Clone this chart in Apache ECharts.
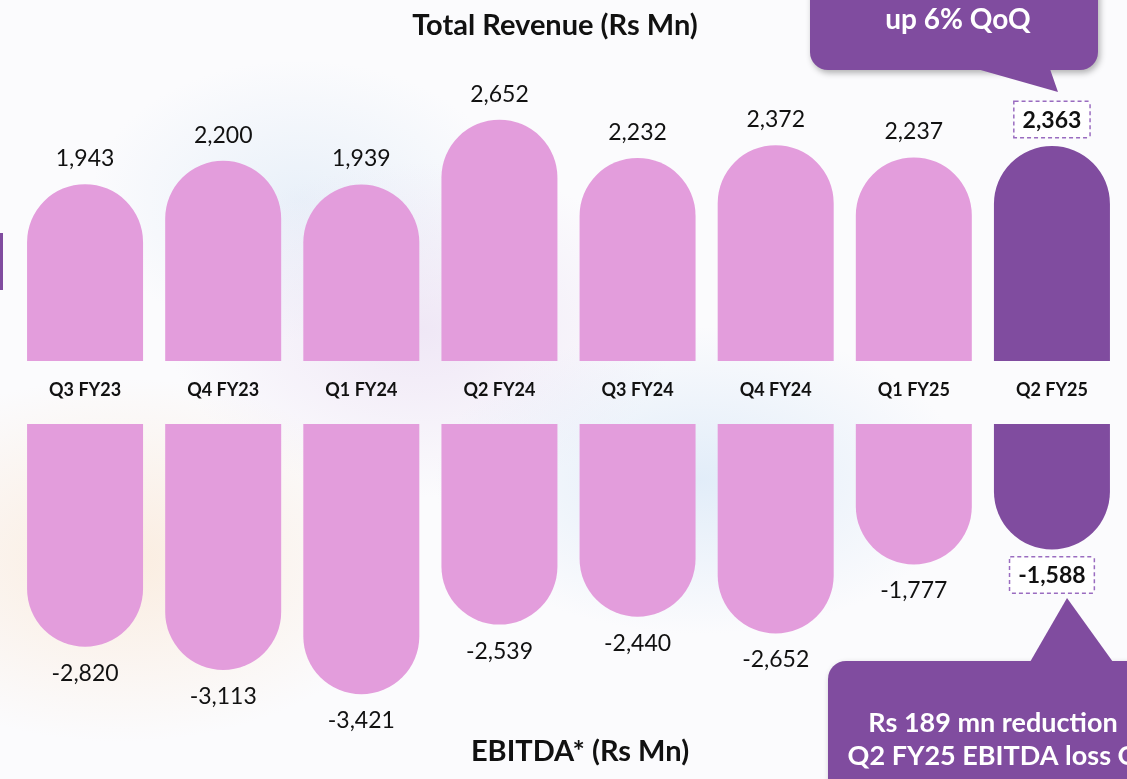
<!DOCTYPE html>
<html>
<head>
<meta charset="utf-8">
<title>Total Revenue and EBITDA</title>
<script src="https://cdn.jsdelivr.net/npm/echarts@6/dist/echarts.min.js"></script>
<style>
	html, body {
		margin: 0;
		padding: 0;
		width: 1127px;
		height: 779px;
		overflow: hidden;
		background:
			radial-gradient(ellipse 420px 260px at 120px 560px, rgba(250, 225, 200, 0.55), rgba(255, 255, 255, 0) 70%),
			radial-gradient(ellipse 380px 220px at 700px 480px, rgba(205, 225, 245, 0.55), rgba(255, 255, 255, 0) 70%),
			radial-gradient(ellipse 360px 240px at 420px 330px, rgba(230, 215, 240, 0.55), rgba(255, 255, 255, 0) 70%),
			radial-gradient(ellipse 300px 200px at 300px 200px, rgba(215, 230, 245, 0.5), rgba(255, 255, 255, 0) 70%),
			#fbfbfd;
	}
	#chart {
		width: 1127px;
		height: 779px;
	}
</style>
</head>
<body>
<div id="chart"></div>
<script>
	// 数据
	const quarters = ['Q3 FY23', 'Q4 FY23', 'Q1 FY24', 'Q2 FY24', 'Q3 FY24', 'Q4 FY24', 'Q1 FY25', 'Q2 FY25']
	const revenue = [1943, 2200, 1939, 2652, 2232, 2372, 2237, 2363]
	const ebitda = [-2820, -3113, -3421, -2539, -2440, -2652, -1777, -1588]
	const highlightIndex = 7

	const pink = '#e39ddc'
	const purple = '#804c9f'
	const fontFamily = 'Lato, "Open Sans", sans-serif'

	const fmt = (v) => v.toLocaleString('en-US')

	// 最新季度加虚线框
	const boxLabel = {
		fontWeight: 'bold',
		fontSize: 23,
		backgroundColor: '#ffffff',
		borderColor: '#9a6cc0',
		borderWidth: 1.5,
		borderType: [4, 3],
		padding: [7, 8, 5, 8]
	}

	const revenueData = revenue.map((v, i) => {
		if (i !== highlightIndex) return v
		return { value: v, itemStyle: { color: purple }, label: { ...boxLabel, distance: 9 } }
	})

	const ebitdaData = ebitda.map((v, i) => {
		if (i !== highlightIndex) return v
		return { value: v, itemStyle: { color: purple }, label: { ...boxLabel, distance: 8 } }
	})

	const chart = echarts.init(document.getElementById('chart'))

	const option = {
		backgroundColor: 'transparent',
		textStyle: { fontFamily: fontFamily },
		title: [
			{
				text: 'Total Revenue (Rs Mn)',
				left: 550,
				top: 6,
				textAlign: 'center',
				textStyle: { fontSize: 29, fontWeight: 'bold', color: '#111', fontFamily: fontFamily }
			},
			{
				text: 'EBITDA* (Rs Mn)',
				left: 575,
				top: 732,
				textAlign: 'center',
				textStyle: { fontSize: 29, fontWeight: 'bold', color: '#111', fontFamily: fontFamily }
			}
		],
		grid: [
			{ left: 16, right: 6, top: 88, height: 273 },
			{ left: 16, right: 6, top: 424, height: 316 }
		],
		xAxis: [
			{
				type: 'category',
				gridIndex: 0,
				data: quarters,
				axisLine: { show: false },
				axisTick: { show: false },
				axisLabel: {
					margin: 20,
					fontSize: 18,
					fontWeight: 'bold',
					color: '#111',
					fontFamily: fontFamily
				}
			},
			{
				type: 'category',
				gridIndex: 1,
				data: quarters,
				show: false
			}
		],
		yAxis: [
			{ type: 'value', gridIndex: 0, min: 0, max: 3000, show: false, splitLine: { show: false } },
			{ type: 'value', gridIndex: 1, min: -4000, max: 0, show: false, splitLine: { show: false } }
		],
		series: [
			{
				name: 'Total Revenue',
				type: 'bar',
				xAxisIndex: 0,
				yAxisIndex: 0,
				barWidth: 116,
				data: revenueData,
				itemStyle: { color: pink, borderRadius: [58, 58, 0, 0] },
				label: {
					show: true,
					position: 'top',
					distance: 14,
					fontSize: 23,
					color: '#111',
					fontFamily: fontFamily,
					formatter: (p) => fmt(p.value)
				}
			},
			{
				name: 'EBITDA',
				type: 'bar',
				xAxisIndex: 1,
				yAxisIndex: 1,
				barWidth: 116,
				data: ebitdaData,
				itemStyle: { color: pink, borderRadius: [0, 0, 58, 58] },
				label: {
					show: true,
					position: 'bottom',
					distance: 15,
					fontSize: 23,
					color: '#111',
					fontFamily: fontFamily,
					formatter: (p) => fmt(p.value)
				}
			}
		],
		graphic: [
			// 左侧残留色块
			{ type: 'rect', shape: { x: 0, y: 233, width: 3, height: 57 }, style: { fill: purple } },
			// 顶部气泡
			{
				type: 'group',
				children: [
					{
						type: 'rect',
						shape: { x: 810, y: -40, width: 288, height: 110, r: 18 },
						style: { fill: purple, shadowBlur: 6, shadowOffsetX: 2, shadowOffsetY: 3, shadowColor: 'rgba(0,0,0,0.3)' }
					},
					{
						type: 'polygon',
						shape: { points: [[977, 69], [1050, 69], [1058, 92]] },
						style: { fill: purple }
					},
					{
						type: 'text',
						x: 958,
						y: 20,
						style: {
							text: 'up 6% QoQ',
							fill: '#fff',
							font: 'bold 28px ' + fontFamily,
							align: 'center',
							verticalAlign: 'middle'
						}
					}
				]
			},
			// 底部气泡
			{
				type: 'group',
				children: [
					{
						type: 'rect',
						shape: { x: 828, y: 661, width: 340, height: 160, r: 18 },
						style: { fill: purple, shadowBlur: 6, shadowOffsetX: 2, shadowOffsetY: 3, shadowColor: 'rgba(0,0,0,0.3)' }
					},
					{
						type: 'polygon',
						shape: { points: [[1030, 662], [1067, 598], [1113, 662]] },
						style: { fill: purple }
					},
					{
						type: 'text',
						x: 993,
						y: 723,
						style: {
							text: 'Rs 189 mn reduction',
							fill: '#fff',
							font: 'bold 27px ' + fontFamily,
							align: 'center',
							verticalAlign: 'middle'
						}
					},
					{
						type: 'text',
						x: 1012,
						y: 756,
						style: {
							text: 'Q2 FY25 EBITDA loss QoQ',
							fill: '#fff',
							font: 'bold 27px ' + fontFamily,
							align: 'center',
							verticalAlign: 'middle'
						}
					}
				]
			}
		]
	}

	chart.setOption(option)
</script>
</body>
</html>
